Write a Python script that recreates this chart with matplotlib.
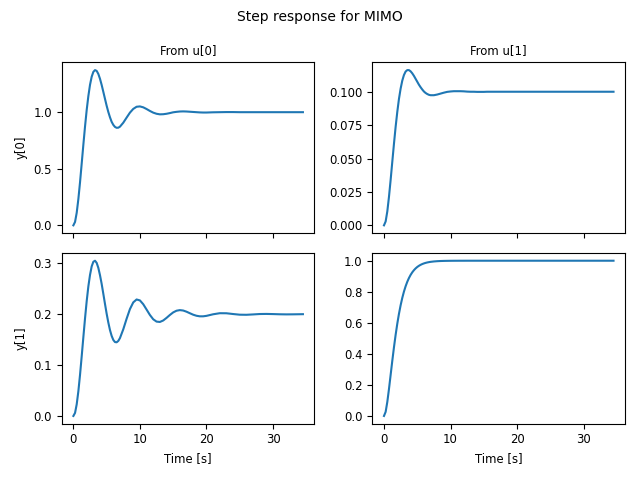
import matplotlib.pyplot as plt
from matplotlib.ticker import MultipleLocator

# time samples [s]
t = [0, 0.25, 0.5, 0.75, 1, 1.25, 1.5, 1.75, 2, 2.25, 2.5, 2.75, 3, 3.25,
     3.5, 3.75, 4, 4.25, 4.5, 4.75, 5, 5.25, 5.5, 5.75, 6, 6.25, 6.5, 6.75, 7,
     7.5, 8, 8.5, 9, 9.5, 10, 10.5, 11, 11.5, 12, 12.5, 13, 13.5, 14, 14.5,
     15, 15.5, 16, 16.5, 17, 17.5, 18, 18.5, 19, 19.5, 20, 21, 22, 23, 24, 25,
     26, 27, 28, 29, 30, 31, 32, 33, 34, 34.5]

# u[0] -> y[0]
y00 = [0, 0.030, 0.111, 0.233, 0.381, 0.546, 0.713, 0.873, 1.019, 1.142,
       1.242, 1.313, 1.356, 1.372, 1.365, 1.338, 1.295, 1.241, 1.180, 1.118,
       1.057, 1.002, 0.955, 0.915, 0.888, 0.870, 0.862, 0.863, 0.872,
       0.907, 0.952, 0.996, 1.029, 1.048, 1.051, 1.043, 1.028, 1.011, 0.996,
       0.986, 0.981, 0.982, 0.986, 0.992, 0.999, 1.003, 1.006, 1.007, 1.006,
       1.004, 1.002, 1.000, 0.998, 0.997, 0.997, 0.999, 1.000, 1.001, 1.001,
       1.000, 1.000, 1.000, 1.000, 1.000, 1.000, 1.000, 1.000, 1.000, 1.000,
       1.000]

# u[1] -> y[0]
y01 = [0, 0.0029, 0.0104, 0.0213, 0.0340, 0.0476, 0.0610, 0.0737, 0.0849,
       0.0946, 0.1023, 0.1083, 0.1125, 0.1151, 0.1162, 0.1162, 0.1153, 0.1138,
       0.1119, 0.1097, 0.1075, 0.1053, 0.1034, 0.1017, 0.1002, 0.0991, 0.0983,
       0.0977, 0.0974,
       0.0974, 0.0979, 0.0986, 0.0993, 0.0999, 0.1002, 0.1004, 0.1004, 0.1004,
       0.1003, 0.1001, 0.1000, 0.1000, 0.0999, 0.0999, 0.0999, 0.1000, 0.1000,
       0.1000, 0.1000, 0.1000, 0.1000, 0.1000, 0.1000, 0.1000, 0.1000, 0.1000,
       0.1000, 0.1000, 0.1000, 0.1000, 0.1000, 0.1000, 0.1000, 0.1000, 0.1000,
       0.1000, 0.1000, 0.1000, 0.1000, 0.1000]

# u[0] -> y[1]
y10 = [0, 0.0060, 0.0229, 0.0487, 0.0810, 0.1173, 0.1550, 0.1918, 0.2256,
       0.2546, 0.2773, 0.2940, 0.3031, 0.3052, 0.3010, 0.2912, 0.2767, 0.2597,
       0.2402, 0.2203, 0.2011, 0.1838, 0.1689, 0.1575, 0.1495, 0.1453, 0.1448,
       0.1475, 0.1531,
       0.1704, 0.1911, 0.2101, 0.2233, 0.2290, 0.2272, 0.2197, 0.2092, 0.1986,
       0.1901, 0.1855, 0.1848, 0.1877, 0.1928, 0.1985, 0.2036, 0.2069, 0.2081,
       0.2073, 0.2050, 0.2020, 0.1991, 0.1970, 0.1959, 0.1959, 0.1968, 0.1999,
       0.2020, 0.2019, 0.2004, 0.1991, 0.1989, 0.1996, 0.2004, 0.2006, 0.2003,
       0.1999, 0.1997, 0.1998, 0.2000, 0.2001]

# u[1] -> y[1]
y11 = [0, 0.0265, 0.0902, 0.1733, 0.2642, 0.3554, 0.4422, 0.5221, 0.5940,
       0.6575, 0.7127, 0.7603, 0.8009, 0.8352, 0.8641, 0.8883, 0.9084, 0.9251,
       0.9389, 0.9503, 0.9596, 0.9672, 0.9734, 0.9785, 0.9826, 0.9860, 0.9887,
       0.9909, 0.9927,
       0.9953, 0.9970, 0.9981, 0.9988, 0.9992, 0.9995, 0.9997, 0.9998, 0.9999,
       0.9999, 1.0, 1.0, 1.0, 1.0, 1.0, 1.0, 1.0, 1.0, 1.0, 1.0, 1.0, 1.0, 1.0,
       1.0, 1.0, 1.0, 1.0, 1.0, 1.0, 1.0, 1.0, 1.0, 1.0, 1.0, 1.0, 1.0, 1.0,
       1.0, 1.0, 1.0, 1.0]

inputs = ['u[0]', 'u[1]']
outputs = ['y[0]', 'y[1]']
responses = [[y00, y01], [y10, y11]]
ytick_steps = [[0.5, 0.025], [0.1, 0.2]]

plt.rcParams.update({
    'axes.labelsize': 'small',
    'axes.titlesize': 'small',
    'xtick.labelsize': 'small',
    'ytick.labelsize': 'small',
})

fig, axs = plt.subplots(2, 2, figsize=(6.4, 4.8), dpi=100, sharex='col')

for i in range(2):
    for j in range(2):
        ax = axs[i, j]
        ax.plot(t, responses[i][j], color='tab:blue')
        ax.yaxis.set_major_locator(MultipleLocator(ytick_steps[i][j]))
        if i == 0:
            ax.set_title('From ' + inputs[j])
        if j == 0:
            ax.set_ylabel(outputs[i])
        if i == 1:
            ax.set_xlabel('Time [s]')

fig.suptitle('Step response for MIMO', fontsize='medium')
fig.tight_layout()
fig.savefig('out.png')
